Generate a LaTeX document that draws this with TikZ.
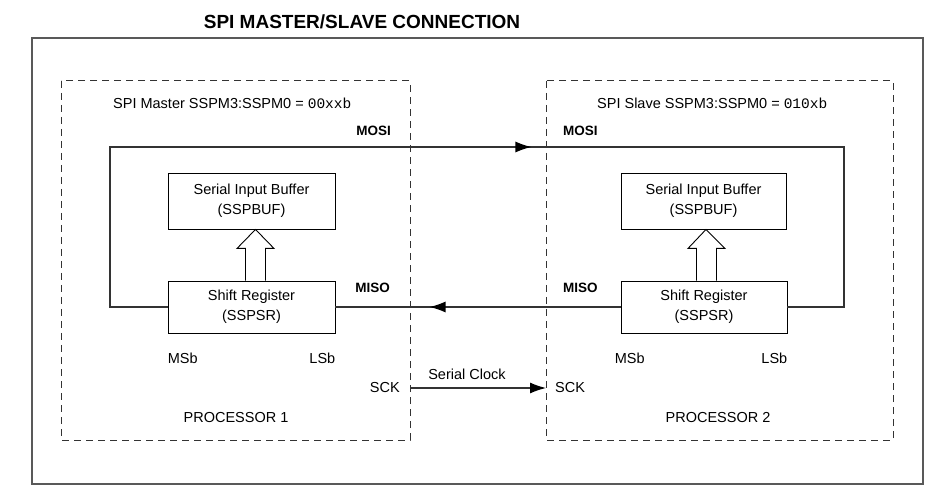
\documentclass[tikz,border=0pt]{standalone}
\usepackage{fontspec}
\setmainfont{Liberation Sans}
\setmonofont{Liberation Mono}
\usetikzlibrary{arrows.meta,decorations.markings}

\begin{document}
\begin{tikzpicture}[x=1pt,y=-1pt,
  txt/.style={font=\fontsize{14.5}{20}\selectfont, inner sep=0pt},
  sig/.style={font=\bfseries\fontsize{13.5}{16}\selectfont, inner sep=0pt},
  reg/.style={draw, line width=0.9pt, align=center, inner sep=0pt,
              font=\fontsize{14.5}{20}\selectfont},
  wire/.style={line width=1.2pt, draw=black!80},
  frame/.style={draw=black!65, line width=1.6pt},
  zone/.style={draw=black!80, line width=1pt, dash pattern=on 7pt off 5pt},
  hollow/.style={draw, line width=0.9pt, line join=miter},
  midarrow/.style={postaction=decorate, decoration={markings,
     mark=at position #1 with {\arrow{Latex[length=16pt,width=11pt,color=black]}}}}
]
\useasboundingbox (0,0) rectangle (950,502);

% title and outer frame
\node[font=\bfseries\fontsize{19}{22}\selectfont, inner sep=0pt] (title) at (362,22) {SPI MASTER/SLAVE CONNECTION};
\draw[frame] (32,38) rectangle (923,484);

% processor zones
\draw[zone] (61,81) rectangle (410,440);
\draw[zone] (546,81) rectangle (893,440);

% mode headers
\node[txt, anchor=west] (hdrM) at (113,103) {SPI Master SSPM3:SSPM0 = \texttt{00xxb}};
\node[txt, anchor=west] (hdrS) at (597,103) {SPI Slave SSPM3:SSPM0 = \texttt{010xb}};

% registers of processor 1
\node[reg, minimum width=167pt, minimum height=56pt] (bufM) at (251.5,201) {Serial Input Buffer\\(SSPBUF)};
\node[reg, minimum width=167pt, minimum height=52pt] (srM) at (251.5,307) {Shift Register\\(SSPSR)};
% registers of processor 2
\node[reg, minimum width=165pt, minimum height=56pt] (bufS) at (703.5,201) {Serial Input Buffer\\(SSPBUF)};
\node[reg, minimum width=166pt, minimum height=52pt] (srS) at (704,307) {Shift Register\\(SSPSR)};

% parallel transfer arrows (shift register -> buffer)
\draw[hollow] ([xshift=-6pt]srM.north) |- ([xshift=-14.5pt,yshift=-19pt]bufM.south)
  -- ([xshift=4pt]bufM.south) -- ([xshift=22.5pt,yshift=-19pt]bufM.south) -| ([xshift=14pt]srM.north);
\draw[hollow] ([xshift=-7.5pt]srS.north) |- ([xshift=-15.5pt,yshift=-19pt]bufS.south)
  -- ([xshift=2.5pt]bufS.south) -- ([xshift=21.5pt,yshift=-19pt]bufS.south) -| ([xshift=12.5pt]srS.north);

% bit order labels
\node[txt, anchor=west] (msbM) at (srM.south west |- 0,358) {MSb};
\node[txt, anchor=east] (lsbM) at (srM.south east |- 0,358) {LSb};
\node[txt, anchor=west] (msbS) at ([xshift=-6pt]srS.south west |- 0,358) {MSb};
\node[txt, anchor=east] (lsbS) at (srS.south east |- 0,358) {LSb};

% MOSI loop: master shift register out, slave shift register in
\draw[wire, midarrow=639pt] (srM.west) -| (110,147) -- (844,147) |- (srS.east);
% MISO: slave shift register out, master shift register in
\draw[wire, midarrow=191pt] (srS.west) -- (srM.east);

% signal names
\node[sig, anchor=east] (mosiM) at (391,131) {MOSI};
\node[sig, anchor=west] (mosiS) at (563,131) {MOSI};
\node[sig, anchor=east] (misoM) at (390,288) {MISO};
\node[sig, anchor=west] (misoS) at (563,288) {MISO};

% serial clock
\node[txt, anchor=east] (sckM) at (400,388) {SCK};
\node[txt, anchor=west] (sckS) at (555,388) {SCK};
\coordinate (ckA) at (410,388);
\coordinate (ckB) at (546,388);
\draw[wire, -{Latex[length=16pt,width=11pt,color=black]}] (ckA) -- (ckB);
\node[txt] (clk) at (467,374) {Serial Clock};

% processor names
\node[txt] (p1) at (236,418) {PROCESSOR 1};
\node[txt] (p2) at (718,418) {PROCESSOR 2};
\end{tikzpicture}
\end{document}
